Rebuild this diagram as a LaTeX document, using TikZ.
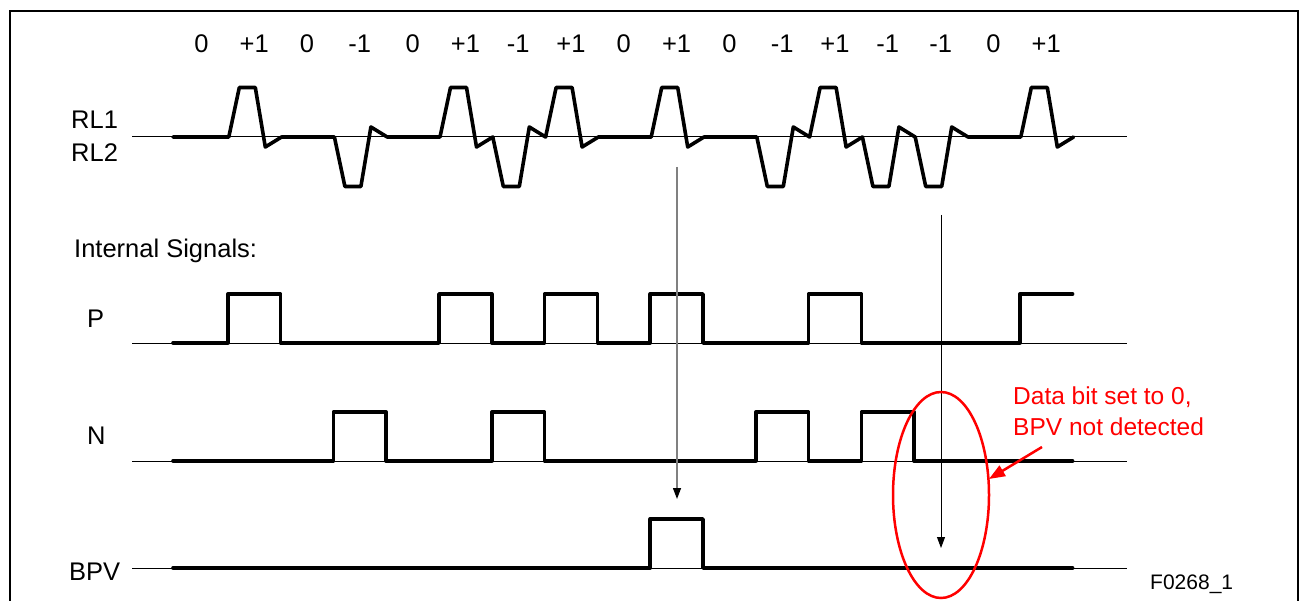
\documentclass[tikz,border=0pt]{standalone}
\usepackage{fontspec}
\setmainfont{Liberation Sans}
\usetikzlibrary{arrows.meta}
\begin{document}
\begin{tikzpicture}[x=1pt,y=-1pt,
  sig/.style={line width=3.6pt,line join=round,line cap=round},
  axisline/.style={line width=1pt},
  lbl/.style={font=\fontsize{25.5}{30}\selectfont,inner sep=0pt,anchor=base west},
  bitlbl/.style={font=\fontsize{25.5}{30}\selectfont,inner sep=0pt,anchor=base},
  notelbl/.style={font=\fontsize{24.5}{31}\selectfont,inner sep=0pt,anchor=base west,text=red},
  figlbl/.style={font=\fontsize{21}{25}\selectfont,inner sep=0pt,anchor=base west},
  probe/.style={line width=1pt,-{Triangle[length=11pt,width=8pt,color=black,fill=black]}},
  redarrow/.style={red,line width=2.5pt,-{Triangle[length=16pt,width=12pt]}}]
\useasboundingbox (0,0) rectangle (1300,601);
\def\T{52.8}
\def\X{175}
% frame
\draw[line width=2.5pt] (10,11) rectangle (1298,620);
% bit labels
\foreach \s [count=\k from 0] in {0,+1,0,-1,0,+1,-1,+1,0,+1,0,-1,+1,-1,-1,0,+1}
  \node[bitlbl] (bit\k) at ({\X+(\k+0.5)*\T},53) {\s};
% labels
\node[lbl] (rl1) at (71,129) {RL1};
\node[lbl] (rl2) at (71,162) {RL2};
\node[lbl] (internal) at (74,258) {Internal Signals:};
\node[lbl] (plbl) at (87,327) {P};
\node[lbl] (nlbl) at (87,444) {N};
\node[lbl] (bpvlbl) at (69,580) {BPV};
\node[figlbl] (fig) at (1150,589) {F0268\_1};
\node[notelbl] (note1) at (1013,404) {Data bit set to 0,};
\node[notelbl] (note2) at (1013,435) {BPV not detected};
% thin reference lines
\foreach \yy in {137,343,461,568}
  \draw[axisline] (132,\yy) -- (1127,\yy);
% RL waveform
\draw[sig] (173,137) foreach \b [count=\k from 0] in {0,1,0,-1,0,1,-1,1,0,1,0,-1,1,-1,-1,0,1} {
  -- ({\X+\k*\T+1},137) -- ({\X+\k*\T+11.5},{137-49.5*\b}) -- ({\X+\k*\T+27.5},{137-49.5*\b})
  -- ({\X+\k*\T+37.5},{137+10*\b}) -- ({\X+(\k+1)*\T+1},137)
};
% P
\draw[sig] (173,343) foreach \l [count=\k from 0] in {0,1,0,0,0,1,0,1,0,1,0,0,1,0,0,0,1} {
  -- ({\X+\k*\T},{343-49*\l}) -- ({\X+(\k+1)*\T},{343-49*\l})
};
% N
\draw[sig] (173,461) foreach \l [count=\k from 0] in {0,0,0,1,0,0,1,0,0,0,0,1,0,1,0,0,0} {
  -- ({\X+\k*\T},{461-49*\l}) -- ({\X+(\k+1)*\T},{461-49*\l})
};
% BPV
\draw[sig] (173,568) foreach \l [count=\k from 0] in {0,0,0,0,0,0,0,0,0,1,0,0,0,0,0,0,0} {
  -- ({\X+\k*\T},{568-49*\l}) -- ({\X+(\k+1)*\T},{568-49*\l})
};
% probe arrows
\coordinate (a1s) at (677,167);
\coordinate (a1e) at (677,499);
\coordinate (a2s) at (941,215);
\coordinate (a2e) at (941,548);
\draw[probe,draw=black!50,line width=1.4pt] (a1s) -- (a1e);
\draw[probe] (a2s) -- (a2e);
% red ellipse and arrow
\draw[red,line width=2.5pt] (941,495) ellipse [x radius=48, y radius=103];
\coordinate (rs) at (1042,447);
\coordinate (rt) at (989,479);
\draw[redarrow] (rs) -- (rt);
\end{tikzpicture}
\end{document}
